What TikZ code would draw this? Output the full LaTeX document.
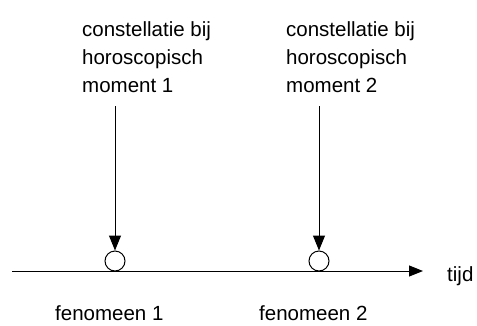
\documentclass[tikz,border=0pt]{standalone}
\usepackage{fontspec}
\setmainfont{Liberation Sans}
\usetikzlibrary{arrows.meta}

\begin{document}
\begin{tikzpicture}[x=1pt,y=-1pt,
  tekst/.style={inner sep=0pt,font=\fontsize{20.5}{28}\selectfont,align=left},
  moment/.style={draw,circle,minimum size=20pt,inner sep=0pt,line width=1pt},
  pijl/.style={line width=1pt,-{Triangle[length=15pt,width=12pt]}}]

\useasboundingbox (0,0) rectangle (477,325);

\coordinate (t0) at (12,271);
\coordinate (t1) at (423,271);
\draw[pijl,-{Triangle[length=14pt,width=11pt]}] (t0) -- (t1);
\node[tekst,anchor=base west] (tijd) at (447,281) {tijd};

\foreach \i/\x in {1/115, 2/319} {
  \node[moment,fill=white] (m\i) at (\x,261) {};
  \coordinate (s\i) at (\x,106);
  \node[tekst,anchor=north west] (c\i) at (\x-33,21) {constellatie bij\\horoscopisch\\moment \i};
  \node[tekst,anchor=base west] (f\i) at (\x-60,320) {fenomeen \i};
  \draw[pijl] (s\i) -- (m\i.north);
}

\end{tikzpicture}
\end{document}
